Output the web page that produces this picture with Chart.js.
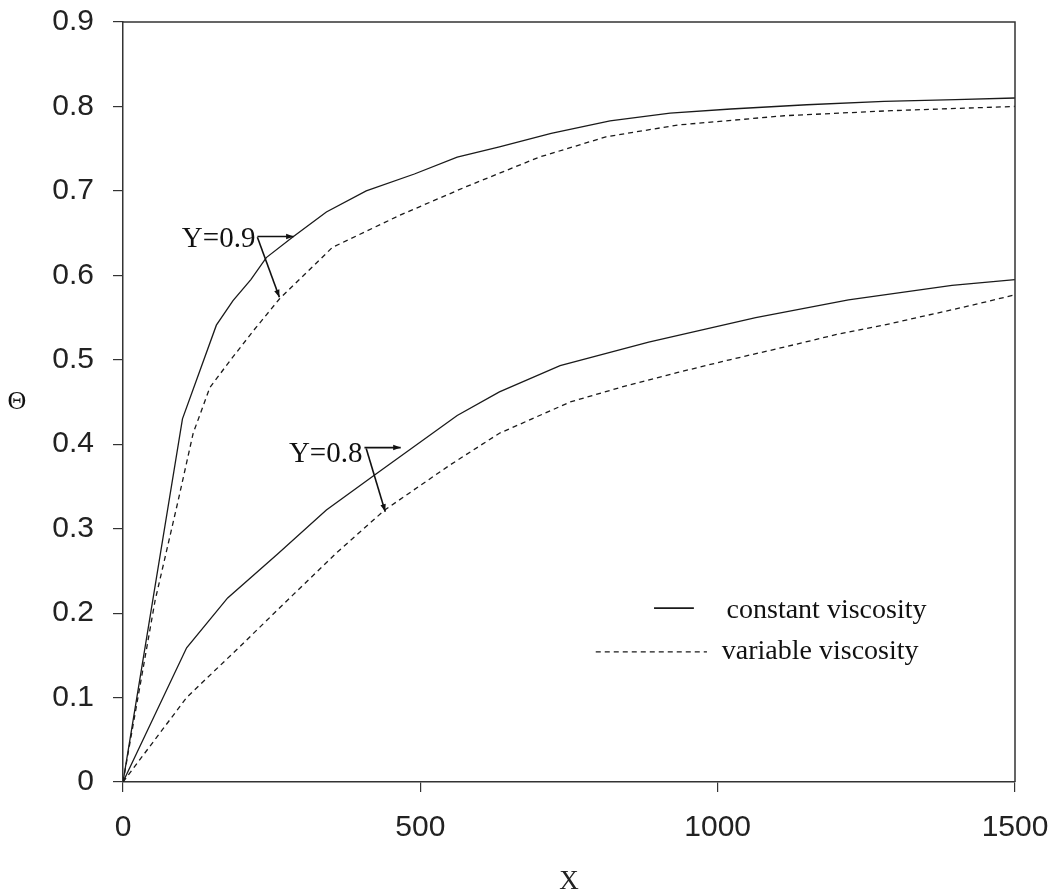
<!DOCTYPE html>
<html>
<head>
<meta charset="utf-8">
<title>Θ em função de X</title>
<script src="https://cdn.jsdelivr.net/npm/chart.js@4.4.0/dist/chart.umd.min.js"></script>
<style>
    html, body { margin: 0; padding: 0; background: #fff; }
    #graficoArea { width: 1055px; height: 895px; }
</style>
</head>
<body>
<div id="graficoArea"><canvas id="grafico" width="1055" height="895"></canvas></div>
<script>
// Curva Y=0.9, viscosidade constante
const xConstante09 = [0, 100, 157, 185, 215, 241, 285, 342, 409, 490, 562, 633, 720, 819, 920, 1022, 1150, 1280, 1400, 1500]
const tetaConstante09 = [0, 0.43, 0.541, 0.57, 0.595, 0.621, 0.645, 0.675, 0.70, 0.72, 0.74, 0.752, 0.768, 0.783, 0.792, 0.797, 0.802, 0.806, 0.808, 0.81]

// Curva Y=0.9, viscosidade variável
const xVariavel09 = [0, 54, 93, 118, 146, 180, 220, 263, 352, 465, 577, 700, 812, 933, 1112, 1292, 1500]
const tetaVariavel09 = [0, 0.215, 0.334, 0.413, 0.467, 0.499, 0.535, 0.572, 0.633, 0.671, 0.705, 0.74, 0.764, 0.778, 0.789, 0.795, 0.80]

// Curva Y=0.8, viscosidade constante
const xConstante08 = [0, 107, 176, 260, 342, 426, 562, 633, 735, 884, 1064, 1220, 1394, 1500]
const tetaConstante08 = [0, 0.159, 0.218, 0.27, 0.322, 0.365, 0.434, 0.462, 0.493, 0.521, 0.55, 0.571, 0.588, 0.595]

// Curva Y=0.8, viscosidade variável
const xVariavel08 = [0, 107, 196, 285, 360, 440, 549, 633, 752, 850, 933, 1020, 1112, 1200, 1292, 1430, 1500]
const tetaVariavel08 = [0, 0.10, 0.16, 0.221, 0.272, 0.322, 0.375, 0.413, 0.45, 0.47, 0.485, 0.50, 0.515, 0.53, 0.543, 0.565, 0.577]

// Marcas dos eixos
const ticksX = [0, 500, 1000, 1500]
const ticksTeta = [0, 0.1, 0.2, 0.3, 0.4, 0.5, 0.6, 0.7, 0.8, 0.9]

// Textos da legenda
const legendas = ["constant viscosity", "variable viscosity"]

const corLinha = "#1a1a1a"
const corEixo = "#333"
const tracejado = [5, 4]

// Junta os arrays x e y em pontos {x, y}
function pontos(xs, ys) {
    let lista = []
    for (let i = 0; i < xs.length; i++) {
        lista.push({ x: xs[i], y: ys[i] })
    }
    return lista
}

// Desenha uma seta de (x1,y1) até (x2,y2) em pixels
function seta(ctx, x1, y1, x2, y2) {
    const ang = Math.atan2(y2 - y1, x2 - x1)
    const tam = 8
    ctx.beginPath()
    ctx.moveTo(x1, y1)
    ctx.lineTo(x2, y2)
    ctx.stroke()
    ctx.beginPath()
    ctx.moveTo(x2, y2)
    ctx.lineTo(x2 - tam * Math.cos(ang - 0.35), y2 - tam * Math.sin(ang - 0.35))
    ctx.lineTo(x2 - tam * Math.cos(ang + 0.35), y2 - tam * Math.sin(ang + 0.35))
    ctx.closePath()
    ctx.fill()
}

// Moldura, título do eixo Θ, rótulos Y=0.9 / Y=0.8 com setas e a legenda
const desenhosExtras = {
    id: "desenhosExtras",
    afterDraw(chart) {
        const ctx = chart.ctx
        const area = chart.chartArea
        const px = v => chart.scales.x.getPixelForValue(v)
        const py = v => chart.scales.y.getPixelForValue(v)

        ctx.save()
        // topo e lado direito da caixa
        ctx.strokeStyle = corEixo
        ctx.lineWidth = 1.5
        ctx.beginPath()
        ctx.moveTo(area.left, area.top)
        ctx.lineTo(area.right, area.top)
        ctx.lineTo(area.right, area.bottom)
        ctx.stroke()

        // título do eixo vertical (sem rotação)
        ctx.fillStyle = "#111"
        ctx.font = '26px "Liberation Serif"'
        ctx.textAlign = "center"
        ctx.textBaseline = "middle"
        ctx.fillText("Θ", area.left - 106, (area.top + area.bottom) / 2)

        // rótulos das curvas
        ctx.font = '29px "Liberation Serif"'
        ctx.textAlign = "left"
        ctx.textBaseline = "alphabetic"
        ctx.fillText("Y=0.9", px(99), py(0.633))
        ctx.fillText("Y=0.8", px(279), py(0.379))

        ctx.strokeStyle = "#111"
        ctx.lineWidth = 1.6
        seta(ctx, px(226), py(0.646), px(287), py(0.646))
        seta(ctx, px(226), py(0.645), px(263), py(0.574))
        seta(ctx, px(406), py(0.396), px(467), py(0.396))
        seta(ctx, px(409), py(0.395), px(441), py(0.32))

        // legenda
        ctx.strokeStyle = corLinha
        ctx.lineWidth = 1.8
        ctx.beginPath()
        ctx.moveTo(px(893), py(0.206))
        ctx.lineTo(px(960), py(0.206))
        ctx.stroke()
        ctx.lineWidth = 1.3
        ctx.setLineDash(tracejado)
        ctx.beginPath()
        ctx.moveTo(px(795), py(0.154))
        ctx.lineTo(px(982), py(0.154))
        ctx.stroke()
        ctx.setLineDash([])

        ctx.font = '28px "Liberation Serif"'
        ctx.fillText(legendas[0], px(1015), py(0.194))
        ctx.fillText(legendas[1], px(1007), py(0.146))
        ctx.restore()
    }
}

function serie(rotulo, xs, ys, tracos) {
    return {
        label: rotulo,
        data: pontos(xs, ys),
        borderColor: corLinha,
        borderWidth: 1.3,
        borderDash: tracos,
        pointRadius: 0,
        fill: false,
        tension: 0
    }
}

// Zera as folgas que a escala pede para os rótulos das pontas
function semFolga(escala) {
    escala.paddingTop = 0
    escala.paddingBottom = 0
    escala.paddingLeft = 0
    escala.paddingRight = 0
}

const fonteTicks = { family: '"Liberation Sans", Arial, sans-serif', size: 30 }

const config = {
    type: "line",
    data: {
        datasets: [
            serie(legendas[0] + " Y=0.9", xConstante09, tetaConstante09, []),
            serie(legendas[1] + " Y=0.9", xVariavel09, tetaVariavel09, tracejado),
            serie(legendas[0] + " Y=0.8", xConstante08, tetaConstante08, []),
            serie(legendas[1] + " Y=0.8", xVariavel08, tetaVariavel08, tracejado)
        ]
    },
    options: {
        responsive: false,
        devicePixelRatio: 1,
        animation: false,
        layout: { padding: { left: 0, top: 22, right: 40, bottom: 0 } },
        plugins: {
            legend: { display: false },
            tooltip: { enabled: false }
        },
        scales: {
            x: {
                type: "linear",
                min: 0,
                max: 1500,
                afterBuildTicks: escala => { escala.ticks = ticksX.map(v => ({ value: v })) },
                ticks: { font: fonteTicks, color: "#222", padding: 18, maxRotation: 0, callback: v => String(v) },
                grid: { drawOnChartArea: false, tickLength: 10, color: corEixo, lineWidth: 1.2 },
                border: { color: corEixo, width: 1.5 },
                title: {
                    display: true,
                    text: "X",
                    color: "#222",
                    font: { family: '"Liberation Serif"', size: 27, lineHeight: 1 },
                    padding: { top: 0, bottom: 0 }
                },
                afterFit: escala => { escala.height = 113; semFolga(escala) }
            },
            y: {
                min: 0,
                max: 0.9,
                afterBuildTicks: escala => { escala.ticks = ticksTeta.map(v => ({ value: v })) },
                ticks: { font: fonteTicks, color: "#222", padding: 19, callback: v => String(Math.round(v * 10) / 10) },
                grid: { drawOnChartArea: false, tickLength: 10, color: corEixo, lineWidth: 1.2 },
                border: { color: corEixo, width: 1.5 },
                afterFit: escala => { escala.width = 123; semFolga(escala) }
            }
        }
    },
    plugins: [desenhosExtras]
}

const ctx = document.getElementById("grafico").getContext("2d")
new Chart(ctx, config)
</script>
</body>
</html>
